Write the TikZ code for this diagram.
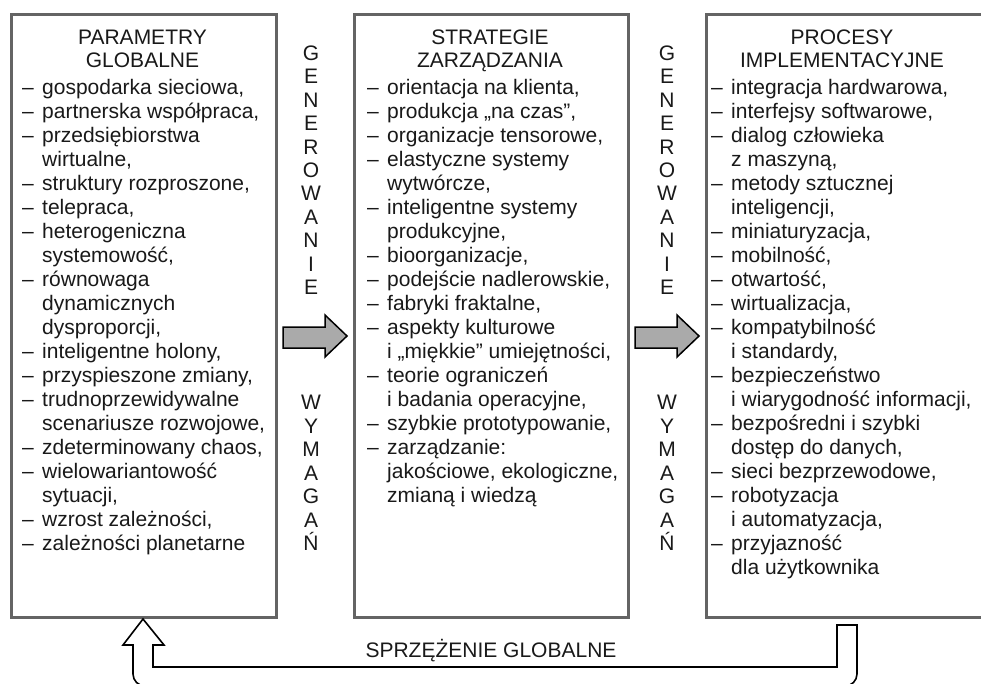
\documentclass[tikz,border=0pt]{standalone}
\usepackage{fontspec}
\setmainfont{Liberation Sans}
\definecolor{boxgray}{RGB}{100,100,100}
\definecolor{arrowfill}{RGB}{170,170,170}
\definecolor{inkcol}{RGB}{25,25,25}
\newcommand\D{\makebox[20pt][l]{–}}
\newcommand\C{\hspace*{20pt}}
\begin{document}
\begin{tikzpicture}[x=1pt,y=-1pt,
  panel/.style={draw=boxgray, line width=3pt, fill=white, inner sep=0pt, anchor=north west},
  txt/.style={font=\fontsize{21}{24}\selectfont, inner sep=0pt, anchor=base west, text=inkcol},
  ttl/.style={font=\fontsize{21}{24}\selectfont, inner sep=0pt, anchor=base, text=inkcol},
  blockarrow/.style={draw=black, line width=1.5pt, fill=arrowfill, line join=miter},
  loopline/.style={draw=black, line width=1.6pt}]
\useasboundingbox (0,0) rectangle (981,683);
\clip (0,0) rectangle (981,683);
% panels
\node[panel, minimum width=265pt, minimum height=603pt] (b1) at (10,13) {};
\node[panel, minimum width=274pt, minimum height=603pt] (b2) at (353,13) {};
\node[panel, minimum width=290pt, minimum height=603pt] (b3) at (705,13) {};
% titles
\node[ttl] (t1a) at (142.5,44.5) {PARAMETRY};
\node[ttl] (t1b) at (142.5,67.5) {GLOBALNE};
\node[ttl] (t2a) at (490,44.5) {STRATEGIE};
\node[ttl] (t2b) at (490,67.5) {ZARZĄDZANIA};
\node[ttl] (t3a) at (842,44.5) {PROCESY};
\node[ttl] (t3b) at (842,67.5) {IMPLEMENTACYJNE};
% box 1 items
\foreach \t [count=\i] in {{\D gospodarka sieciowa,},{\D partnerska współpraca,},{\D przedsiębiorstwa},{\C wirtualne,},{\D struktury rozproszone,},{\D telepraca,},{\D heterogeniczna},{\C systemowość,},{\D równowaga},{\C dynamicznych},{\C dysproporcji,},{\D inteligentne holony,},{\D przyspieszone zmiany,},{\D trudnoprzewidywalne},{\C scenariusze rozwojowe,},{\D zdeterminowany chaos,},{\D wielowariantowość},{\C sytuacji,},{\D wzrost zależności,},{\D zależności planetarne}}
  \node[txt] (la\i) at (22,94+24*\i-24) {\t};
% box 2 items
\foreach \t [count=\i] in {{\D orientacja na klienta,},{\D produkcja „na czas”,},{\D organizacje tensorowe,},{\D elastyczne systemy},{\C wytwórcze,},{\D inteligentne systemy},{\C produkcyjne,},{\D bioorganizacje,},{\D podejście nadlerowskie,},{\D fabryki fraktalne,},{\D aspekty kulturowe},{\C i „miękkie” umiejętności,},{\D teorie ograniczeń},{\C i badania operacyjne,},{\D szybkie prototypowanie,},{\D zarządzanie:},{\C jakościowe, ekologiczne,},{\C zmianą i wiedzą}}
  \node[txt] (lb\i) at (367,94+24*\i-24) {\t};
% box 3 items
\foreach \t [count=\i] in {{\D integracja hardwarowa,},{\D interfejsy softwarowe,},{\D dialog człowieka},{\C z maszyną,},{\D metody sztucznej},{\C inteligencji,},{\D miniaturyzacja,},{\D mobilność,},{\D otwartość,},{\D wirtualizacja,},{\D kompatybilność},{\C i standardy,},{\D bezpieczeństwo},{\C i wiarygodność informacji,},{\D bezpośredni i szybki},{\C dostęp do danych,},{\D sieci bezprzewodowe,},{\D robotyzacja},{\C i automatyzacja,},{\D przyjazność},{\C dla użytkownika}}
  \node[txt] (lc\i) at (711,94+24*\i-24) {\t};
% vertical words
\foreach \l [count=\i] in {G,E,N,E,R,O,W,A,N,I,E}
  \node[ttl] (ga\i) at (311,60.5+23.4*\i-23.4) {\l};
\foreach \l [count=\i] in {W,Y,M,A,G,A,Ń}
  \node[ttl] (wa\i) at (311,409.5+23.5*\i-23.5) {\l};
\foreach \l [count=\i] in {G,E,N,E,R,O,W,A,N,I,E}
  \node[ttl] (gb\i) at (667,60.5+23.4*\i-23.4) {\l};
\foreach \l [count=\i] in {W,Y,M,A,G,A,Ń}
  \node[ttl] (wb\i) at (667,409.5+23.5*\i-23.5) {\l};
% block arrows
\draw[blockarrow] (283,327) -- (325,327) -- (325,315) -- (347,336) -- (325,357) -- (325,348) -- (283,348) -- cycle;
\draw[blockarrow] (635,327) -- (677,327) -- (677,315) -- (699,336) -- (677,357) -- (677,348) -- (635,348) -- cycle;
% feedback loop
\coordinate (fbtip) at (b1.south -| 143,625);
\coordinate (fbstart) at (837,625);
\draw[loopline, line join=miter] (133,672) -- (133,645) -- (123,645) -- (fbtip) -- (164,645) -- (153,645) -- (153,667) -- (837,667) -- (fbstart) -- (857,625) -- (857,672);
\draw[loopline, rounded corners=12pt] (133,660) -- (133,686) -- (857,686) -- (857,660);
\node[ttl] (fb) at (491,657.5) {SPRZĘŻENIE GLOBALNE};
\end{tikzpicture}
\end{document}
